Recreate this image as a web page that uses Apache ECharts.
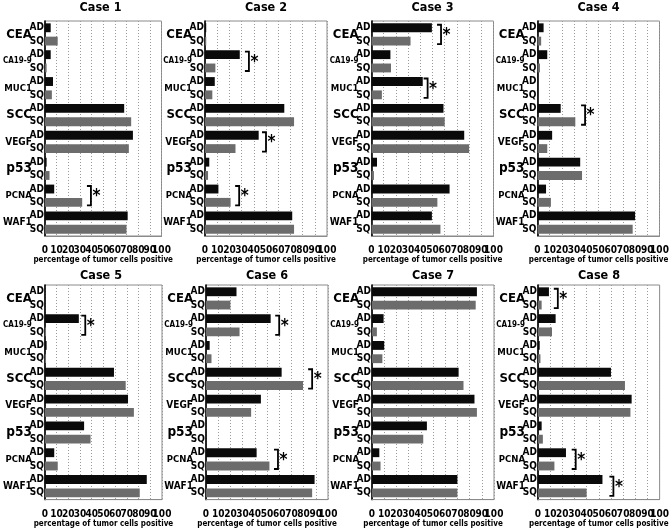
<!DOCTYPE html>
<html><head><meta charset="utf-8">
<script src="https://cdn.jsdelivr.net/npm/echarts@6/dist/echarts.min.js"></script>
<style>html,body{margin:0;padding:0;background:#fff}#c{width:672px;height:529px}</style>
</head><body><div id="c"></div>
<script>
// ---- data ----
const markers = ['CEA', 'CA19-9', 'MUC1', 'SCC', 'VEGF', 'p53', 'PCNA', 'WAF1'];
const groupLabels = ['AD', 'SQ'];
const caseNames = ['Case 1', 'Case 2', 'Case 3', 'Case 4', 'Case 5', 'Case 6', 'Case 7', 'Case 8'];
const xAxisName = 'percentage of tumor cells positive';

const case1AD = [5, 5, 7, 68, 75.5, 1.5, 8, 71];
const case1SQ = [11, 1.5, 6, 74, 72, 4, 32, 70];
const case1Sig = [['PCNA', 39.5]];

const case2AD = [1, 28.5, 8, 65, 44, 3.5, 11, 71.5];
const case2SQ = [1, 8.5, 6, 73, 25, 2.5, 21, 73];
const case2Sig = [['CA19-9', 36], ['VEGF', 50], ['PCNA', 28]];

const case3AD = [49.5, 15.5, 42, 59, 76, 4.5, 64, 49.5];
const case3SQ = [32, 16, 8.5, 60, 80, 2, 54, 56.5];
const case3Sig = [['CEA', 57], ['MUC1', 46]];

const case4AD = [5, 8, 0, 19, 12, 35, 7, 80];
const case4SQ = [3, 2, 0, 31, 8, 36.5, 11, 78];
const case4Sig = [['SCC', 39]];

const case5AD = [0, 29, 1.5, 59, 71, 33.5, 8, 87];
const case5SQ = [0, 1, 1, 69, 76, 39, 11, 81];
const case5Sig = [['CA19-9', 34.5]];

const case6AD = [25, 53, 3, 62, 45, 0, 41.5, 89];
const case6SQ = [20, 27.5, 4.5, 79.5, 37, 0, 52, 87];
const case6Sig = [['CA19-9', 60], ['SCC', 87], ['PCNA', 59]];

const case7AD = [86, 9.5, 10, 71, 84, 45, 6, 70];
const case7SQ = [85, 4, 8.5, 75, 86, 42, 7, 70];
const case7Sig = [];

const case8AD = [9, 14.5, 1.4, 60, 77, 3, 23, 53];
const case8SQ = [3, 11.5, 2, 71.5, 76, 4, 13.5, 40];
const case8Sig = [['CEA', 16.3], ['PCNA', 31], ['WAF1', 62]];

const allAD = [case1AD, case2AD, case3AD, case4AD, case5AD, case6AD, case7AD, case8AD];
const allSQ = [case1SQ, case2SQ, case3SQ, case4SQ, case5SQ, case6SQ, case7SQ, case8SQ];
const allSig = [case1Sig, case2Sig, case3Sig, case4Sig, case5Sig, case6Sig, case7Sig, case8Sig];

// ---- layout / style ----
const FONT = '"Liberation Sans Narrow", "DejaVu Sans Condensed", "Liberation Sans", sans-serif';
const colLefts = [[39.5, 205, 371.5, 537.5], [40, 206, 372, 538]];
const colWidth = 122;
const rowTops = [21, 285];
const rowHeights = [215, 221];
const titleTops = [1, 269];
const nameSizes = [13, 8, 9.5, 13, 10, 13.5, 9.5, 10];
const X_MIN = 0, X_MAX = 100, X_STEP = 10;

const pairLabels = [];
markers.forEach(() => groupLabels.forEach(g => pairLabels.push(g)));

const grids = [], xAxes = [], yAxes = [], series = [], titles = [];
const nameRich = {};
nameSizes.forEach((s, i) => { nameRich['s' + i] = { fontSize: s, fontWeight: 'bold', fontFamily: FONT, color: '#000' }; });
const tickStyle = { margin: 9.5, fontSize: 10, fontWeight: 'bold', fontFamily: FONT, color: '#000' };

for (let i = 0; i < 8; i++) {
  const r = Math.floor(i / 4), c = i % 4;
  const left = colLefts[r][c];
  grids.push({ left: left, top: rowTops[r], width: colWidth, height: rowHeights[r],
    show: true, borderColor: '#8a8a8a', borderWidth: 1, containLabel: false });
  titles.push({ text: caseNames[i], left: left + colWidth / 2, top: titleTops[r], textAlign: 'center', padding: 0,
    textStyle: { fontSize: 12.5, fontWeight: 'bold', fontFamily: FONT, color: '#000' } });
  // main value axis (labels 0..90)
  xAxes.push({ gridIndex: i, type: 'value', min: X_MIN, max: X_MAX, interval: X_STEP, position: 'bottom',
    name: xAxisName, nameLocation: 'middle', nameGap: 17,
    nameTextStyle: { fontSize: 8, fontWeight: 'bold', fontFamily: FONT, color: '#000' },
    axisLine: { show: true, lineStyle: { color: '#8a8a8a', width: 1 } },
    axisTick: { show: false },
    axisLabel: Object.assign({ showMaxLabel: false, showMinLabel: true }, tickStyle),
    splitLine: { show: true, lineStyle: { color: '#9a9a9a', type: [1, 2], width: 1 } } });
  // companion axis carrying only the max tick label
  xAxes.push({ gridIndex: i, type: 'value', min: X_MIN, max: X_MAX, interval: X_STEP, position: 'bottom', offset: 0,
    axisLine: { show: false }, axisTick: { show: false }, splitLine: { show: false },
    axisLabel: Object.assign({ showMaxLabel: true, showMinLabel: false,
      formatter: v => (v === X_MAX ? String(v) : '') }, tickStyle) });
  yAxes.push({ gridIndex: i, type: 'category', data: markers, inverse: true, position: 'left',
    axisLine: { show: true, onZero: false, lineStyle: { color: '#000', width: 1.6 } },
    axisTick: { show: false }, splitLine: { show: false },
    axisLabel: { margin: 13, interval: 0, formatter: (v, idx) => '{s' + idx + '|' + v + '}', rich: nameRich } });
  yAxes.push({ gridIndex: i, type: 'category', data: pairLabels, inverse: true, position: 'left', offset: 0,
    axisLine: { show: false }, axisTick: { show: false }, splitLine: { show: false },
    axisLabel: { margin: 1, interval: 0, fontSize: 10, lineHeight: 10, fontWeight: 'bold', fontFamily: FONT, color: '#000' } });
  series.push({ type: 'bar', name: 'AD', xAxisIndex: 2 * i, yAxisIndex: 2 * i, data: allAD[i],
    barWidth: '33%', barGap: '50%', itemStyle: { color: '#0a0a0a' }, silent: true });
  series.push({ type: 'bar', name: 'SQ', xAxisIndex: 2 * i, yAxisIndex: 2 * i, data: allSQ[i],
    barWidth: '33%', barGap: '50%', itemStyle: { color: '#6c6c6c' }, silent: true });
  series.push({ type: 'custom', xAxisIndex: 2 * i, yAxisIndex: 2 * i, silent: true, clip: false,
    encode: { x: 0, y: 1 },
    data: allSig[i].map(s => [s[1], markers.indexOf(s[0])]),
    renderItem: (params, api) => {
      const p = api.coord([api.value(0), api.value(1)]);
      const bh = api.size([0, 1])[1];
      const h = bh * 0.36;
      return { type: 'group', children: [
        { type: 'polyline', shape: { points: [[p[0] - 4, p[1] - h], [p[0], p[1] - h], [p[0], p[1] + h], [p[0] - 4, p[1] + h]] },
          style: { stroke: '#000', lineWidth: 1.8, fill: null } },
        { type: 'text', x: p[0] + 1.5, y: p[1] + 1, style: { text: '*', fontSize: 17, fontWeight: 'bold', fontFamily: FONT,
          fill: '#000', align: 'left', verticalAlign: 'middle' } }
      ] };
    } });
}

const chart = echarts.init(document.getElementById('c'), null, { renderer: 'canvas' });
chart.setOption({ animation: false, backgroundColor: '#fff', title: titles, grid: grids,
  xAxis: xAxes, yAxis: yAxes, series: series });
</script></body></html>
